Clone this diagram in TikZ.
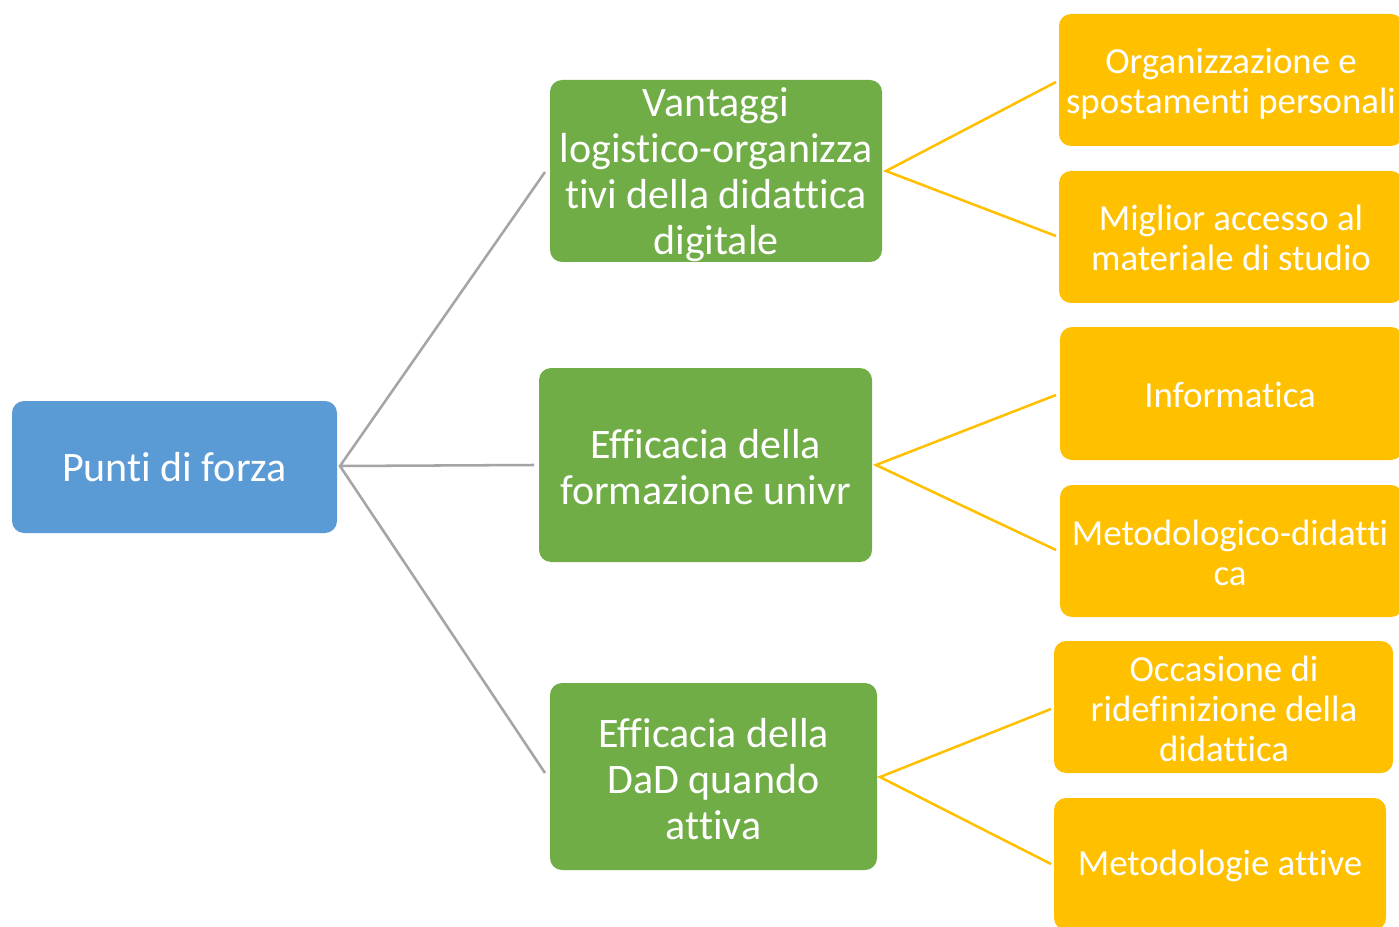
\documentclass[tikz,border=0pt]{standalone}
\usepackage{fontspec}
\setmainfont[Ligatures={NoCommon}]{Carlito}
\definecolor{bblue}{HTML}{5B9BD5}
\definecolor{ggreen}{HTML}{70AD47}
\definecolor{oorange}{HTML}{FFC000}
\definecolor{lgray}{HTML}{A5A5A5}
\tikzset{
  box/.style 2 args={rectangle, rounded corners=9pt, inner sep=0pt, draw=none,
    minimum width=#1*0.75pt, minimum height=#2*0.75pt},
  bigtxt/.style={text=white, align=center, inner sep=0pt,
    font=\fontsize{31.5}{34.5}\selectfont},
  smalltxt/.style={text=white, align=center, inner sep=0pt,
    font=\fontsize{27.6}{30}\selectfont},
  grayline/.style={draw=lgray, line width=1.9pt},
  yelline/.style={draw=oorange, line width=1.9pt},
}
\begin{document}
\begin{tikzpicture}[x=0.75pt, y=-0.75pt]
\clip (0,0) rectangle (1399,927);
\fill[white] (0,0) rectangle (1399,927);

% boxes
\node[box={325}{132}, fill=bblue] (root) at (174.5,467) {};
\node[box={332}{182}, fill=ggreen] (g1) at (716,171) {};
\node[box={333}{194}, fill=ggreen] (g2) at (705.5,465) {};
\node[box={327}{187}, fill=ggreen] (g3) at (713.5,776.5) {};
\node[box={344}{132}, fill=oorange] (o1) at (1231,80) {};
\node[box={344}{132}, fill=oorange] (o2) at (1231,237) {};
\node[box={343}{133}, fill=oorange] (o3) at (1231.5,393.5) {};
\node[box={343}{132}, fill=oorange] (o4) at (1231.5,551) {};
\node[box={339}{132}, fill=oorange] (o5) at (1223.5,707) {};
\node[box={332}{132}, fill=oorange] (o6) at (1220,864) {};

% texts
\node[bigtxt] (rootT) at (174.5,467) {Punti di forza};
\node[bigtxt] (g1T) at (716,175) {Vantaggi\\logistico-organizza\\tivi della didattica\\digitale};
\node[bigtxt] (g2T) at (705.5,467) {Efficacia della\\formazione univr};
\node[bigtxt] (g3T) at (713.5,779) {Efficacia della\\DaD quando\\attiva};
\node[smalltxt] (o1T) at (1231,84) {Organizzazione e\\spostamenti personali};
\node[smalltxt] (o2T) at (1231,238) {Miglior accesso al\\materiale di studio};
\node[smalltxt] (o3T) at (1230,395) {Informatica};
\node[smalltxt] (o4T) at (1230,553) {Metodologico-didatti\\ca};
\node[smalltxt] (o5T) at (1224,709) {Occasione di\\ridefinizione della\\didattica};
\node[smalltxt] (o6T) at (1220,866) {Metodologie attive};

% connector end points
\coordinate (rootOut) at (340,466);
\coordinate (g1In) at (545,172);
\coordinate (g2In) at (534,465);
\coordinate (g3In) at (545,773);
\coordinate (g1Out) at (886,171);
\coordinate (g2Out) at (876,465);
\coordinate (g3Out) at (880,777);
\coordinate (o1In) at (1056,82);
\coordinate (o2In) at (1056,236);
\coordinate (o3In) at (1056,395);
\coordinate (o4In) at (1056,550);
\coordinate (o5In) at (1051,709);
\coordinate (o6In) at (1051,864);

\draw[grayline] (g1In) -- (rootOut) -- (g3In);
\draw[grayline] (rootOut) -- (g2In);
\draw[yelline] (o1In) -- (g1Out) -- (o2In);
\draw[yelline] (o3In) -- (g2Out) -- (o4In);
\draw[yelline] (o5In) -- (g3Out) -- (o6In);
\end{tikzpicture}
\end{document}
